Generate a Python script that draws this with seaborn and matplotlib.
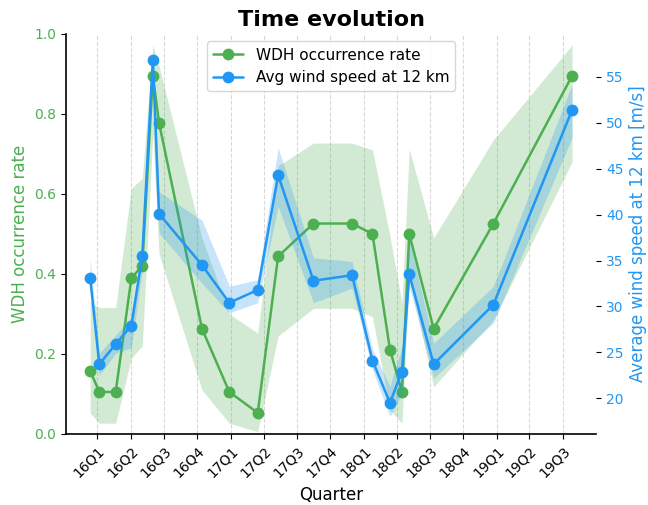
import matplotlib.pyplot as plt
import numpy as np
import pandas as pd
import seaborn as sns

# sample dates (one per campaign)
dates = ["2015-12-12", "2016-01-06", "2016-02-20", "2016-04-03", "2016-05-03",
         "2016-06-01", "2016-06-18", "2016-10-14", "2016-12-28", "2017-03-16",
         "2017-05-11", "2017-08-16", "2017-11-30", "2018-01-25", "2018-03-14",
         "2018-04-16", "2018-05-06", "2018-07-12", "2018-12-23", "2019-07-27"]

# WDH occurrence rate with band
wdh_rate = [0.158, 0.105, 0.105, 0.389, 0.421, 0.895, 0.778, 0.263, 0.105, 0.053,
            0.444, 0.526, 0.526, 0.500, 0.211, 0.105, 0.500, 0.263, 0.526, 0.895]
wdh_low = [0.052, 0.027, 0.027, 0.190, 0.220, 0.750, 0.450, 0.110, 0.027, 0.006,
           0.245, 0.314, 0.314, 0.293, 0.060, 0.027, 0.390, 0.118, 0.285, 0.680]
wdh_high = [0.330, 0.316, 0.316, 0.614, 0.639, 0.972, 0.920, 0.490, 0.300, 0.252,
            0.670, 0.727, 0.727, 0.710, 0.495, 0.327, 0.712, 0.490, 0.735, 0.972]

# average wind speed at 12 km with band
wind = [33.1, 23.7, 25.9, 27.9, 35.5, 56.9, 40.1, 34.5, 30.4, 31.8,
        44.3, 32.8, 33.4, 24.1, 19.5, 22.9, 33.5, 23.7, 30.2, 51.4]
wind_low = [32.5, 22.5, 24.9, 25.5, 34.0, 55.5, 38.0, 32.5, 29.3, 30.4,
            40.9, 30.4, 32.0, 23.1, 18.0, 20.5, 32.2, 22.2, 28.2, 48.4]
wind_high = [35.2, 24.9, 26.9, 28.8, 37.0, 57.8, 42.5, 39.4, 32.2, 32.9,
             47.3, 35.3, 34.9, 25.3, 21.3, 25.6, 37.3, 26.0, 32.2, 54.2]

quarter_labels = ["16Q1", "16Q2", "16Q3", "16Q4", "17Q1", "17Q2", "17Q3", "17Q4",
                  "18Q1", "18Q2", "18Q3", "18Q4", "19Q1", "19Q2", "19Q3"]

GREEN = "#4caf50"
BLUE = "#2196f3"

df = pd.DataFrame({
    "date": pd.to_datetime(dates),
    "rate": wdh_rate, "rate_low": wdh_low, "rate_high": wdh_high,
    "wind": wind, "wind_low": wind_low, "wind_high": wind_high,
})
quarter_starts = pd.date_range("2016-01-01", periods=len(quarter_labels), freq="QS")

sns.set_style("ticks", {"axes.edgecolor": "black", "text.color": "black",
                        "axes.labelcolor": "black", "xtick.color": "black",
                        "ytick.color": "black"})
plt.rcParams["font.family"] = ["DejaVu Sans"]
plt.rcParams["axes.linewidth"] = 1.2

fig = plt.figure(figsize=(6.48, 5.05), dpi=100)
ax1 = fig.add_axes([0.102, 0.1406, 0.818, 0.7924])
ax2 = ax1.twinx()

# occurrence rate (left axis)
ax1.fill_between(df["date"], df["rate_low"], df["rate_high"], color=GREEN, alpha=0.25, linewidth=0)
sns.lineplot(data=df, x="date", y="rate", ax=ax1, color=GREEN, marker="o", markersize=8.5,
             markeredgewidth=0, linewidth=1.8, label="WDH occurrence rate", legend=False)

# wind speed (right axis)
ax2.fill_between(df["date"], df["wind_low"], df["wind_high"], color=BLUE, alpha=0.25, linewidth=0)
sns.lineplot(data=df, x="date", y="wind", ax=ax2, color=BLUE, marker="o", markersize=8.5,
             markeredgewidth=0, linewidth=1.8, label="Avg wind speed at 12 km", legend=False)

ax1.set_ylim(0, 1.0)
ax2.set_ylim(16.1, 59.7)
ax1.set_xticks(quarter_starts)
ax1.set_xticklabels(quarter_labels, rotation=45, ha="right", rotation_mode="anchor", fontsize=10)
ax1.xaxis.grid(True, linestyle="--", color="#d8d8d8", linewidth=0.8)

ax1.set_xlabel("Quarter", fontsize=12)
ax1.set_ylabel("WDH occurrence rate", color=GREEN, fontsize=12)
ax2.set_ylabel("Average wind speed at 12 km [m/s]", color=BLUE, fontsize=12)
ax1.tick_params(axis="y", labelcolor=GREEN, labelsize=10)
ax2.tick_params(axis="y", labelcolor=BLUE, labelsize=10)

for ax in (ax1, ax2):
    ax.spines["top"].set_visible(False)
    ax.spines["right"].set_visible(False)
ax2.spines["left"].set_visible(False)
ax2.spines["bottom"].set_visible(False)

ax1.set_title("Time evolution", fontsize=16, fontweight="bold")

h1, l1 = ax1.get_legend_handles_labels()
h2, l2 = ax2.get_legend_handles_labels()
ax2.legend(h1 + h2, l1 + l2, loc="upper center", fontsize=11, frameon=True)

fig.savefig("out.png", dpi=100)
